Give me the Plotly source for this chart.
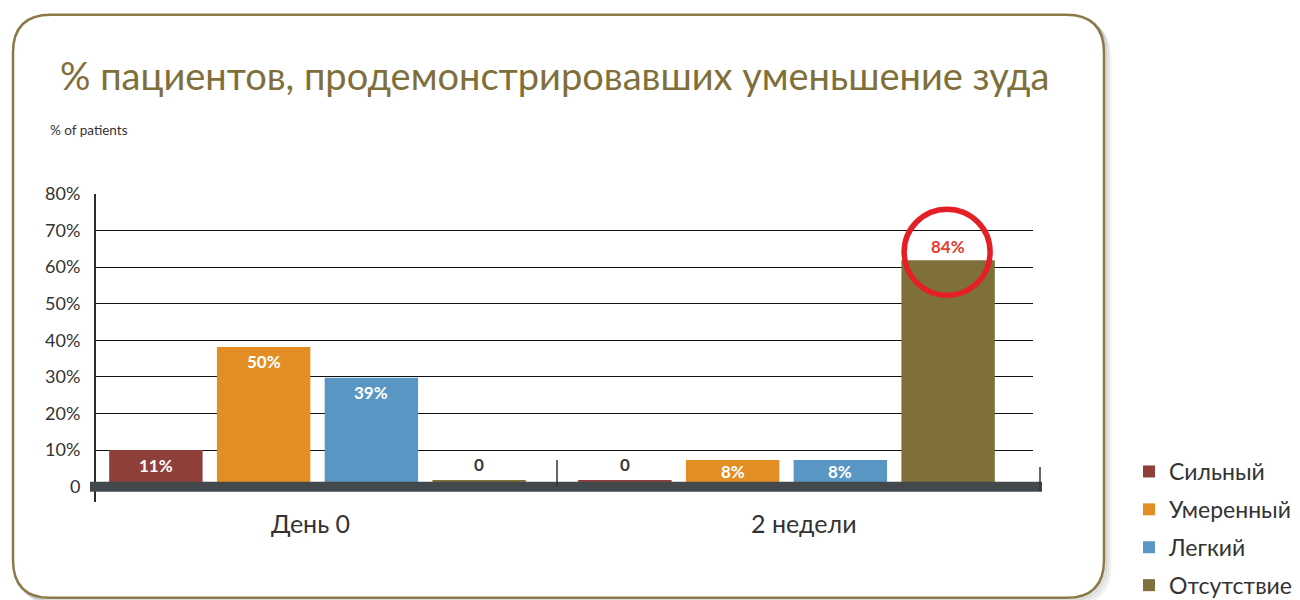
import plotly.graph_objects as go

# ---- data ----
categories = ["День 0", "2 недели"]
series_names = ["Сильный", "Умеренный", "Легкий", "Отсутствие"]
series_colors = ["#8f3f39", "#e28e25", "#5a96c3", "#7f6f3b"]
# bar heights as drawn in the picture
values_severe = [10.0, 1.8]
values_moderate = [38.2, 7.3]
values_mild = [29.8, 7.3]
values_none = [1.8, 61.9]
# printed labels
labels_severe = ["11%", "0"]
labels_moderate = ["50%", "8%"]
labels_mild = ["39%", "8%"]
labels_none = ["0", "84%"]
y_tickvals = [0, 10, 20, 30, 40, 50, 60, 70, 80]
y_ticktext = ["0", "10%", "20%", "30%", "40%", "50%", "60%", "70%", "80%"]

series_values = [values_severe, values_moderate, values_mild, values_none]
series_labels = [labels_severe, labels_moderate, labels_mild, labels_none]
highlight = (3, 1)  # series index, category index of circled value

FONT = "Lato"
OLIVE = "#7f6f3a"
DARK = "#333333"

W, H = 1300, 600
OFF = 8  # page body margin: screen coords = figure coords + OFF
# plot area in screen pixels
PL, PR, PT, PB = 96, 1033, 193.6, 502
def px(x):
    return (x - PL) / (PR - PL)
def py(y):
    return (PB - y) / (PB - PT)

BARGAP, GROUPGAP = 0.081, 0.133
slot = (1 - BARGAP) / len(series_names)
def bar_x(i, j):
    return j - (1 - BARGAP) / 2 + slot * (i + 0.5)

fig = go.Figure()
for i, name in enumerate(series_names):
    fig.add_trace(go.Bar(
        x=categories, y=series_values[i], name=name,
        marker=dict(color=series_colors[i], line=dict(width=0)),
        legendgroup=name, hoverinfo="x+name",
    ))

annotations = []
for i, name in enumerate(series_names):
    for j, cat in enumerate(categories):
        v = series_values[i][j]
        lab = series_labels[i][j]
        if (i, j) == highlight:
            color, shift = "#e63a2e", 14
        elif lab == "0":
            color, shift = "#3a3a3a", 16
        elif v < 9:
            color, shift = "white", -12
        else:
            color, shift = "white", -15
        annotations.append(dict(
            x=bar_x(i, j), y=v, xref="x", yref="y", text="<b>%s</b>" % lab,
            showarrow=False, yshift=shift, yanchor="middle", xanchor="center",
            font=dict(family=FONT, size=17, color=color)))

# category labels
for j, (cat, dx) in enumerate(zip(categories, [-7, 17])):
    annotations.append(dict(
        x=cat, y=py(523), xref="x", yref="paper", text=cat, showarrow=False,
        xshift=dx, yanchor="middle", xanchor="center",
        font=dict(family=FONT, size=25, color=DARK)))

# title and subtitle
annotations.append(dict(
    x=px(58), y=py(74), xref="paper", yref="paper", xanchor="left", yanchor="middle",
    text="% пациентов, продемонстрировавших уменьшение зуда", showarrow=False,
    font=dict(family=FONT, size=38, color=OLIVE)))
annotations.append(dict(
    x=px(48), y=py(130), xref="paper", yref="paper", xanchor="left", yanchor="middle",
    text="% of patients", showarrow=False,
    font=dict(family=FONT, size=13.5, color=DARK)))

shapes = []
def rounded_path(l, t, r, b, rad):
    def P(x, y):
        return "%.5f,%.5f" % (px(x), py(y))
    return ("M" + P(l + rad, t) + " L" + P(r - rad, t) + " Q" + P(r, t) + " " + P(r, t + rad) +
            " L" + P(r, b - rad) + " Q" + P(r, b) + " " + P(r - rad, b) +
            " L" + P(l + rad, b) + " Q" + P(l, b) + " " + P(l, b - rad) +
            " L" + P(l, t + rad) + " Q" + P(l, t) + " " + P(l + rad, t) + " Z")
for off, alpha in [(6, 0.05), (4, 0.08), (2, 0.12)]:
    shapes.append(dict(type="path", xref="paper", yref="paper", layer="below",
                       path=rounded_path(13 + off, 14 + off, 1104 + off, 598 + off, 38),
                       line=dict(color="rgba(0,0,0,%s)" % alpha, width=3)))
shapes.append(dict(type="path", xref="paper", yref="paper", layer="below",
                   path=rounded_path(13, 14, 1104, 598, 38),
                   line=dict(color="#8a7a45", width=2.5), fillcolor="white"))
# base band
shapes.append(dict(type="rect", xref="paper", yref="y", x0=px(90), x1=px(1042),
                   y0=-1.4, y1=1.35, fillcolor="#43484c", line=dict(width=0), layer="above"))
# group separator ticks
shapes.append(dict(type="line", xref="paper", yref="y", x0=px(557), x1=px(557),
                   y0=0, y1=7.3, line=dict(color="#333333", width=1.5)))
shapes.append(dict(type="line", xref="paper", yref="y", x0=px(1040), x1=px(1040),
                   y0=-1.2, y1=5.4, line=dict(color="#333333", width=1.5)))
# highlight circle
hi, hj = highlight
shapes.append(dict(type="circle", xref="x", yref="y", xsizemode="pixel", ysizemode="pixel",
                   xanchor=bar_x(hi, hj), yanchor=series_values[hi][hj],
                   x0=-44, x1=42, y0=-35, y1=51,
                   line=dict(color="#e41f26", width=5.5), layer="above"))

fig.update_layout(
    width=W, height=H,
    margin=dict(l=PL - OFF, r=W - (PR - OFF), t=PT - OFF, b=H - (PB - OFF), pad=0,
                autoexpand=False),
    paper_bgcolor="white", plot_bgcolor="rgba(0,0,0,0)",
    barmode="group", bargap=BARGAP, bargroupgap=GROUPGAP,
    showlegend=True,
    legend=dict(xref="container", yref="container",
                x=(1129 - OFF) / W, y=1 - (450 - OFF) / H, xanchor="left", yanchor="top",
                font=dict(family=FONT, size=23, color=DARK),
                traceorder="grouped", tracegroupgap=5, bgcolor="rgba(0,0,0,0)"),
    annotations=annotations, shapes=shapes,
    font=dict(family=FONT, color=DARK),
)
fig.update_xaxes(type="category", range=[-0.4723, 1.5256], showgrid=False, zeroline=False,
                 showline=False, ticks="", showticklabels=False)
fig.update_yaxes(range=[-4.2, 80], tickvals=y_tickvals, ticktext=y_ticktext,
                 showgrid=True, gridcolor="#111111", gridwidth=1, zeroline=False,
                 showline=True, linecolor="#2b2b2b", linewidth=2,
                 tickfont=dict(family=FONT, size=18, color=DARK), ticklabelstandoff=10)

fig.write_html("out.html")
